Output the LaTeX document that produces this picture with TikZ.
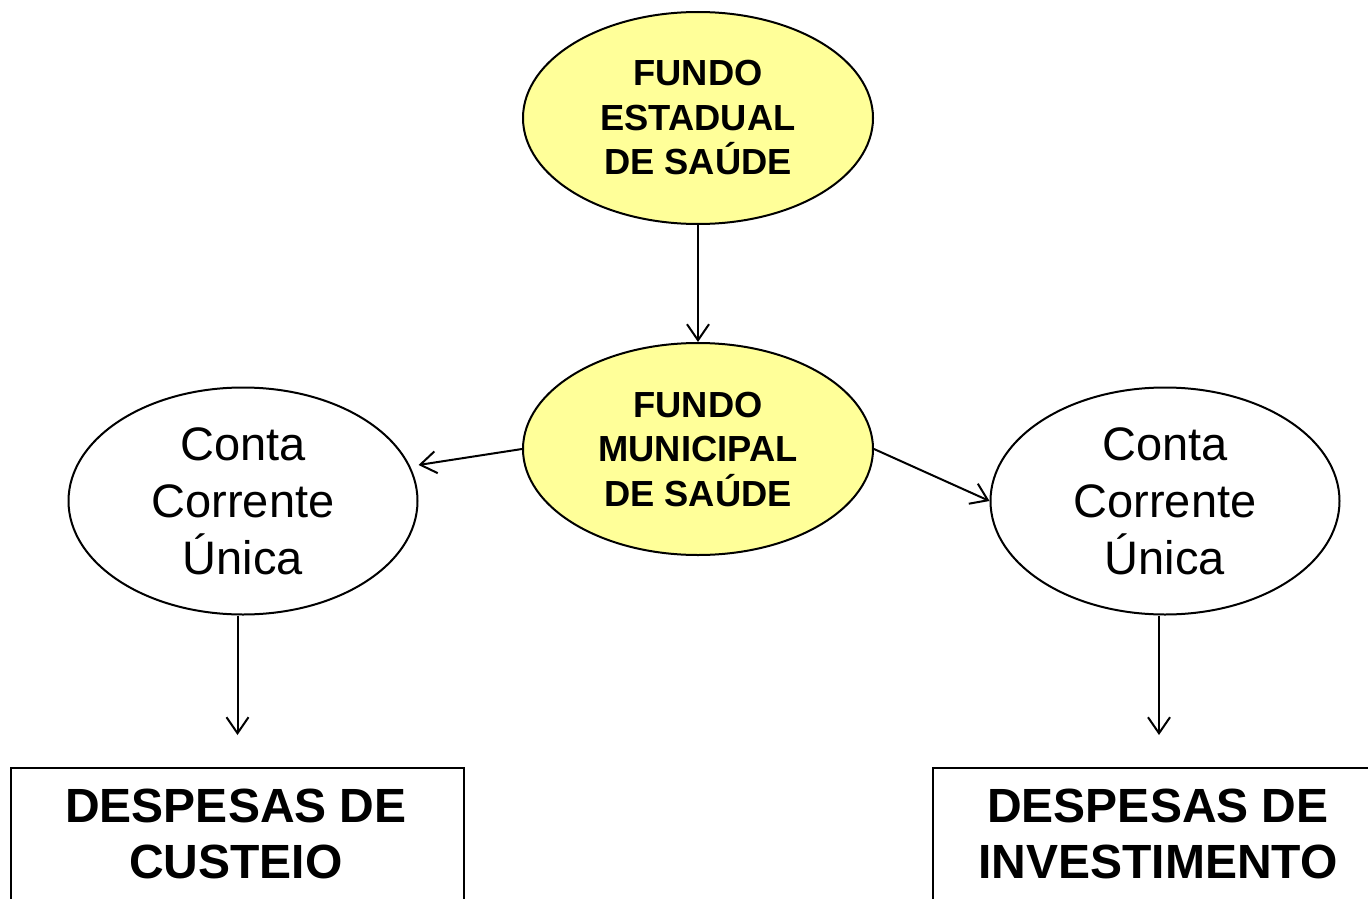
\documentclass[tikz,border=0pt]{standalone}
\usepackage{fontspec}
\setmainfont{Liberation Sans}
\usetikzlibrary{arrows.meta,shapes.geometric,calc}
\definecolor{fundoyellow}{RGB}{255,255,153}
\tikzset{
  fundo/.style={ellipse, draw=black, line width=2pt, fill=fundoyellow, minimum width=350pt, minimum height=212pt, inner sep=0pt, align=center, font=\fontsize{36.3}{44.5}\selectfont\bfseries},
  conta/.style={ellipse, draw=black, line width=2pt, fill=white, minimum width=349pt, minimum height=227pt, inner sep=0pt, align=center, font=\fontsize{47}{57}\selectfont},
  despbox/.style={draw=black, line width=2pt, fill=white, inner sep=0pt},
  desptext/.style={align=center, font=\fontsize{48}{56}\selectfont\bfseries},
  conn/.style={line width=2pt, -{Straight Barb[length=16pt,width=22pt,line width=2pt]}}
}
\begin{document}
\begin{tikzpicture}[x=1pt,y=-1pt]
\clip (0,0) rectangle (1368,899);
\fill[white] (0,0) rectangle (1368,899);
\node[fundo] (top) at (698,118) {FUNDO\\ESTADUAL\\DE SAÚDE};
\node[fundo] (mid) at (698,449) {FUNDO\\MUNICIPAL\\DE SAÚDE};
\node[conta] (left) at (243,501) {Conta\\Corrente\\Única};
\node[conta] (right) at (1165,501) {Conta\\Corrente\\Única};
\node[despbox, minimum width=453pt, minimum height=160pt, anchor=north west] (lbox) at (10,767) {};
\node[despbox, minimum width=452pt, minimum height=160pt, anchor=north west] (rbox) at (932,767) {};
\node[desptext] (ltext) at (236,834) {DESPESAS DE\\CUSTEIO};
\node[desptext] (rtext) at (1158,834) {DESPESAS DE\\INVESTIMENTO};
\draw[conn] (top.south) -- (mid.north);
\draw[conn] (mid.west) -- ($(left.east)+(0,-36)$);
\draw[conn] (mid.east) -- (right.west);
\draw[conn, shorten >=32pt] (lbox.north |- left.south) -- (lbox.north);
\draw[conn, shorten >=32pt] (rbox.north |- right.south) -- (rbox.north);
\end{tikzpicture}
\end{document}
